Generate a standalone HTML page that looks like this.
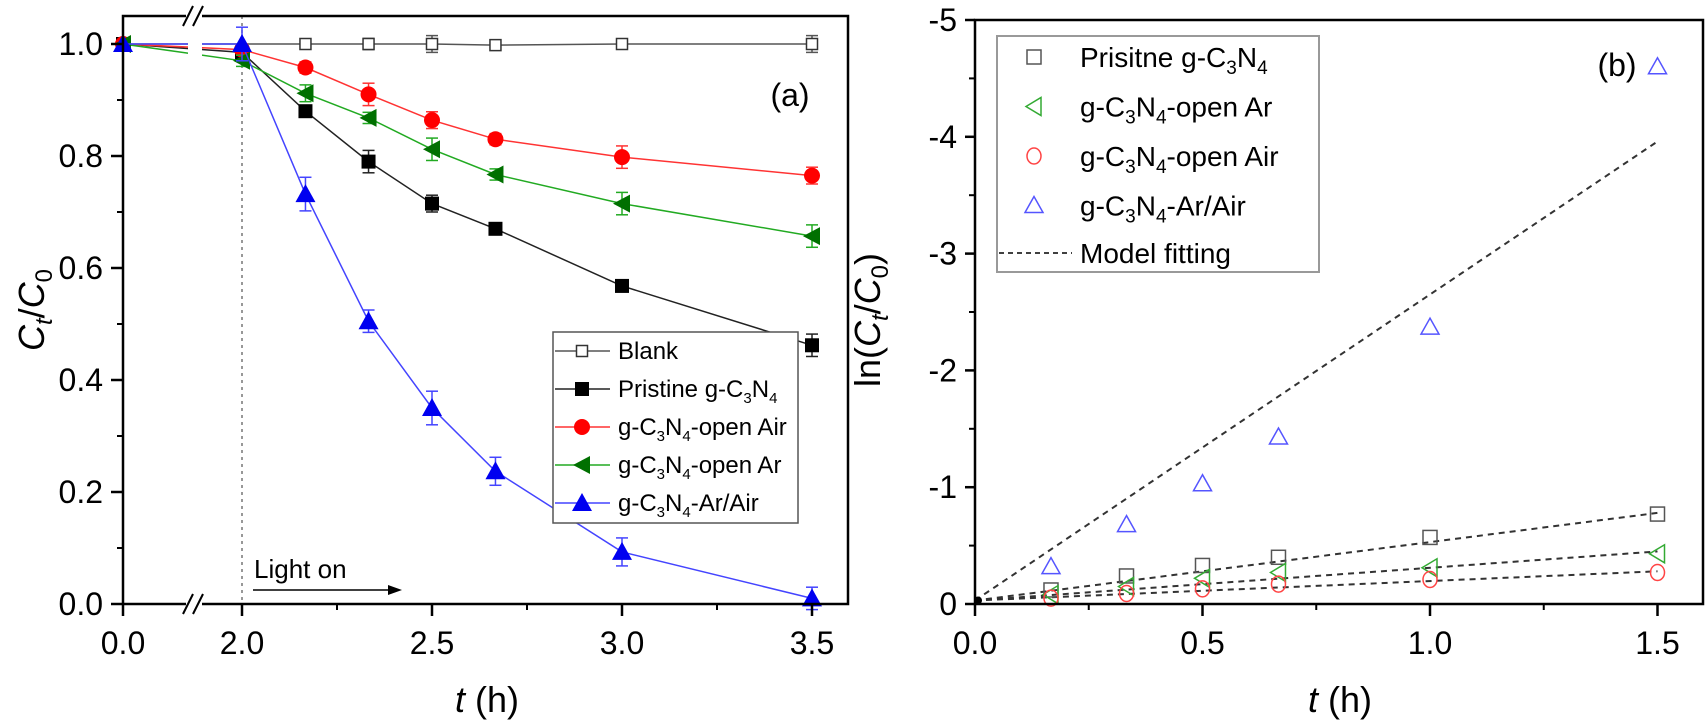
<!DOCTYPE html>
<html><head><meta charset="utf-8"><style>
body{margin:0;background:#fff}
svg{display:block;font-family:"Liberation Sans",Arial,sans-serif}
</style></head><body>
<svg id="fig" width="1708" height="724" viewBox="0 0 1708 724">
<g id="pa"></g>
<g id="pb"></g>
</svg>
<script>
// ---- Panel (a) data ----
const tA = [0, 2.0, 2.167, 2.333, 2.5, 2.667, 3.0, 3.5];
const blank = [1.0, 1.0, 1.0, 1.0, 1.0, 0.998, 1.0, 1.0];
const pristine = [1.0, 0.985, 0.88, 0.79, 0.715, 0.67, 0.568, 0.462];
const openAir = [1.0, 0.99, 0.958, 0.91, 0.864, 0.83, 0.798, 0.765];
const openAr = [1.0, 0.97, 0.912, 0.868, 0.812, 0.767, 0.715, 0.657];
const arAir = [1.0, 1.0, 0.732, 0.505, 0.35, 0.237, 0.093, 0.01];
const errBlank = [0, 0, 0.005, 0.01, 0.015, 0.005, 0.005, 0.015];
const errPristine = [0, 0.01, 0.01, 0.02, 0.015, 0.01, 0.01, 0.02];
const errAir = [0, 0.01, 0.01, 0.02, 0.015, 0.01, 0.02, 0.015];
const errAr = [0, 0.01, 0.015, 0.01, 0.02, 0.01, 0.02, 0.02];
const errArAir = [0, 0.03, 0.03, 0.02, 0.03, 0.025, 0.025, 0.02];
const yTicksA = [0.0, 0.2, 0.4, 0.6, 0.8, 1.0];
const xTicksA = [0.0, 2.0, 2.5, 3.0, 3.5];
// ---- Panel (b) data ----
const tB = [0.167, 0.333, 0.5, 0.667, 1.0, 1.5];
const lnPristine = [0.12, 0.24, 0.33, 0.40, 0.57, 0.77];
const lnAr = [0.08, 0.15, 0.22, 0.27, 0.31, 0.43];
const lnAir = [0.05, 0.09, 0.13, 0.17, 0.21, 0.27];
const lnArAir = [0.32, 0.68, 1.03, 1.43, 2.37, 4.6];
const fitStart = [0.03, 0.03, 0.03, 0.03];
const fitEnd = [0.78, 0.45, 0.28, 3.96];
const yTicksB = [0, 1, 2, 3, 4, 5];
const xTicksB = [0.0, 0.5, 1.0, 1.5];

const NS = "http://www.w3.org/2000/svg";
function mk(parent, tag, attrs, text) {
  const e = document.createElementNS(NS, tag);
  for (const k in attrs) e.setAttribute(k, attrs[k]);
  if (text !== undefined) e.textContent = text;
  parent.appendChild(e);
  return e;
}
const pa = document.getElementById('pa');
const pb = document.getElementById('pb');

// axes functions
const AX = {l:123, r:848, t:16, b:604};
function xa(t){ return t >= 2 ? 242 + (t - 2) * 380 : 123 + t * 35; }
function ya(v){ return 604 - v * 560; }
const BX = {l:975, r:1703, t:20, b:604};
function xb(t){ return 975 + t * 455; }
function yb(v){ return 604 - v * 116.8; }

// ---------- Panel a ----------
// vertical light-on dotted line
let e = mk(pa, 'line', {x1:242, y1:AX.t, x2:242, y2:AX.b, stroke:'#777', 'stroke-width':1.5, 'stroke-dasharray':'3,4'});



function markerA(g, type, x, y, color) {
  let m;
  if (type === 'sq') m = mk(g, 'rect', {x:x-7, y:y-7, width:14, height:14, fill:color});
  else if (type === 'osq') m = mk(g, 'rect', {x:x-5.5, y:y-5.5, width:11, height:11, fill:'#fff', stroke:'#333', 'stroke-width':1.5});
  else if (type === 'ci') m = mk(g, 'circle', {cx:x, cy:y, r:8, fill:color});
  else if (type === 'lt') m = mk(g, 'polygon', {points:`${x-9},${y} ${x+8},${y-9} ${x+8},${y+9}`, fill:color});
  else if (type === 'up') m = mk(g, 'polygon', {points:`${x},${y-10} ${x-10},${y+8} ${x+10},${y+8}`, fill:color});
  return m;
}
const seriesA = [
  {name:'blank', vals:blank, err:errBlank, color:'#444', mk:'osq'},
  {name:'pristine', vals:pristine, err:errPristine, color:'#000', mk:'sq'},
  {name:'open-air', vals:openAir, err:errAir, color:'#f00', mk:'ci'},
  {name:'open-ar', vals:openAr, err:errAr, color:'#007000', mk:'lt'},
  {name:'ar-air', vals:arAir, err:errArAir, color:'#0000f0', mk:'up'}
];
const lineColA = {blank:'#555', pristine:'#222', 'open-air':'#f33', 'open-ar':'#2a2', 'ar-air':'#44f'};
seriesA.forEach(s => {
  const g = mk(pa, 'g', {});
  
  
  const pts = tA.map((t,i)=> xa(t)+','+ya(s.vals[i])).join(' ');
  const pl = mk(g, 'polyline', {points:pts, fill:'none', stroke:lineColA[s.name], 'stroke-width':1.5});
  
  
  tA.forEach((t,i)=>{
    const x = xa(t), y = ya(s.vals[i]), er = s.err[i]*560;
    if (er > 0) {
      mk(g, 'line', {x1:x, y1:y-er, x2:x, y2:y+er, stroke:lineColA[s.name], 'stroke-width':1.5});
      mk(g, 'line', {x1:x-6, y1:y-er, x2:x+6, y2:y-er, stroke:lineColA[s.name], 'stroke-width':1.5});
      mk(g, 'line', {x1:x-6, y1:y+er, x2:x+6, y2:y+er, stroke:lineColA[s.name], 'stroke-width':1.5});
    }
    if (s.name === 'blank' && t === 2.0) return;
    const m = markerA(g, s.mk, x, y, s.color);
    
    
  });
});
// break gap
mk(pa, 'rect', {x:188, y:AX.t+3, width:14, height:AX.b-AX.t-6, fill:'#fff'});
// frame
e = mk(pa, 'rect', {x:AX.l, y:AX.t, width:AX.r-AX.l, height:AX.b-AX.t, fill:'none', stroke:'#000', 'stroke-width':2.5});


// break marks
[AX.t, AX.b].forEach(yy=>{
  mk(pa, 'rect', {x:186, y:yy-3, width:16, height:6, fill:'#fff'});
  mk(pa, 'line', {x1:183, y1:yy+10, x2:193, y2:yy-10, stroke:'#000', 'stroke-width':2});
  mk(pa, 'line', {x1:193, y1:yy+10, x2:203, y2:yy-10, stroke:'#000', 'stroke-width':2});
});
// y ticks a
yTicksA.forEach(v=>{
  mk(pa, 'line', {x1:AX.l-12, y1:ya(v), x2:AX.l, y2:ya(v), stroke:'#000', 'stroke-width':2.5});
  const tx = mk(pa, 'text', {x:AX.l-20, y:ya(v)+11, 'text-anchor':'end', 'font-size':32}, v.toFixed(1));
  
  
});
yTicksA.slice(0,-1).forEach(v=>{
  mk(pa, 'line', {x1:AX.l-6, y1:ya(v+0.1), x2:AX.l, y2:ya(v+0.1), stroke:'#000', 'stroke-width':2});
});
xTicksA.forEach(v=>{
  mk(pa, 'line', {x1:xa(v), y1:AX.b, x2:xa(v), y2:AX.b+12, stroke:'#000', 'stroke-width':2.5});
  const tx = mk(pa, 'text', {x:xa(v), y:AX.b+50, 'text-anchor':'middle', 'font-size':32}, v.toFixed(1));
  
  
});
[2.25, 2.75, 3.25].forEach(v=>{
  mk(pa, 'line', {x1:xa(v), y1:AX.b, x2:xa(v), y2:AX.b+6, stroke:'#000', 'stroke-width':2});
});
// light on
e = mk(pa, 'text', {x:254, y:578, 'font-size':26}, 'Light on');


mk(pa, 'line', {x1:253, y1:590, x2:392, y2:590, stroke:'#000', 'stroke-width':1.5});
mk(pa, 'polygon', {points:'402,590 388,585 388,595', fill:'#000'});
// (a)
e = mk(pa, 'text', {x:790, y:106, 'text-anchor':'middle', 'font-size':32}, '(a)');


// titles
e = mk(pa, 'text', {x:487, y:712, 'text-anchor':'middle', 'font-size':36});
e.innerHTML = '<tspan font-style="italic">t</tspan> (h)';


e = mk(pa, 'text', {x:0, y:0, 'text-anchor':'middle', 'font-size':36, transform:'translate(44,310) rotate(-90)'});
e.innerHTML = '<tspan font-style="italic">C</tspan><tspan font-style="italic" font-size="24" dy="8">t</tspan><tspan dy="-8">/</tspan><tspan font-style="italic">C</tspan><tspan font-size="24" dy="8">0</tspan>';


// legend a
const legA = mk(pa, 'g', {});


mk(legA, 'rect', {x:553, y:332, width:245, height:191, fill:'#fff', stroke:'#555', 'stroke-width':1.5});
const legLabelsA = [
  'Blank',
  'Pristine g-C<tspan font-size="15" dy="6">3</tspan><tspan dy="-6">N</tspan><tspan font-size="15" dy="6">4</tspan>',
  'g-C<tspan font-size="15" dy="6">3</tspan><tspan dy="-6">N</tspan><tspan font-size="15" dy="6">4</tspan><tspan dy="-6">-open Air</tspan>',
  'g-C<tspan font-size="15" dy="6">3</tspan><tspan dy="-6">N</tspan><tspan font-size="15" dy="6">4</tspan><tspan dy="-6">-open Ar</tspan>',
  'g-C<tspan font-size="15" dy="6">3</tspan><tspan dy="-6">N</tspan><tspan font-size="15" dy="6">4</tspan><tspan dy="-6">-Ar/Air</tspan>'
];
seriesA.forEach((s,i)=>{
  const y = 351 + i*38;
  const g = mk(legA, 'g', {});
  
  
  mk(g, 'line', {x1:555, y1:y, x2:610, y2:y, stroke:lineColA[s.name], 'stroke-width':1.5});
  markerA(g, s.mk, 582, y, s.color);
  const t = mk(g, 'text', {x:618, y:y+8, 'font-size':24});
  t.innerHTML = legLabelsA[i];
});

// ---------- Panel b ----------
const fitX = [0, 1.5];
const fitNames = ['pristine','open-ar','open-air','ar-air'];
fitNames.forEach((n,i)=>{
  const l = mk(pb, 'line', {x1:xb(fitX[0]), y1:yb(fitStart[i]), x2:xb(fitX[1]), y2:yb(fitEnd[i]), stroke:'#333', 'stroke-width':2, 'stroke-dasharray':'6,5'});
  
  
});
function markerB(g, type, x, y) {
  if (type === 'sq') return mk(g, 'rect', {x:x-7, y:y-7, width:14, height:14, fill:'none', stroke:'#555', 'stroke-width':1.5});
  if (type === 'lt') return mk(g, 'polygon', {points:`${x-8},${y} ${x+7},${y-9} ${x+7},${y+9}`, fill:'none', stroke:'#3a3', 'stroke-width':1.5});
  if (type === 'ci') return mk(g, 'ellipse', {cx:x, cy:y, rx:7, ry:8, fill:'none', stroke:'#f44', 'stroke-width':1.5});
  return mk(g, 'polygon', {points:`${x},${y-9} ${x-9},${y+7} ${x+9},${y+7}`, fill:'none', stroke:'#55f', 'stroke-width':1.5});
}
const seriesB = [
  {name:'pristine', vals:lnPristine, mk:'sq'},
  {name:'open-ar', vals:lnAr, mk:'lt'},
  {name:'open-air', vals:lnAir, mk:'ci'},
  {name:'ar-air', vals:lnArAir, mk:'up'}
];
seriesB.forEach(s=>{
  const g = mk(pb, 'g', {});
  
  
  tB.forEach((t,i)=>{
    const m = markerB(g, s.mk, xb(t), yb(s.vals[i]));
    
    
  });
});
mk(pb, 'circle', {cx:xb(0)+3, cy:yb(0.03), r:4, fill:'#000'});
e = mk(pb, 'rect', {x:BX.l, y:BX.t, width:BX.r-BX.l, height:BX.b-BX.t, fill:'none', stroke:'#000', 'stroke-width':2.5});


yTicksB.forEach(v=>{
  mk(pb, 'line', {x1:BX.l-10, y1:yb(v), x2:BX.l, y2:yb(v), stroke:'#000', 'stroke-width':2.5});
  const tx = mk(pb, 'text', {x:BX.l-18, y:yb(v)+11, 'text-anchor':'end', 'font-size':32}, v === 0 ? '0' : '-' + v);
  
  
});
yTicksB.slice(0,-1).forEach(v=>{
  mk(pb, 'line', {x1:BX.l-6, y1:yb(v+0.5), x2:BX.l, y2:yb(v+0.5), stroke:'#000', 'stroke-width':2});
});
xTicksB.forEach(v=>{
  mk(pb, 'line', {x1:xb(v), y1:BX.b, x2:xb(v), y2:BX.b+12, stroke:'#000', 'stroke-width':2.5});
  const tx = mk(pb, 'text', {x:xb(v), y:BX.b+50, 'text-anchor':'middle', 'font-size':32}, v.toFixed(1));
  
  
});
[0.25, 0.75, 1.25].forEach(v=>{
  mk(pb, 'line', {x1:xb(v), y1:BX.b, x2:xb(v), y2:BX.b+6, stroke:'#000', 'stroke-width':2});
});
e = mk(pb, 'text', {x:1617, y:76, 'text-anchor':'middle', 'font-size':32}, '(b)');


e = mk(pb, 'text', {x:1340, y:712, 'text-anchor':'middle', 'font-size':36});
e.innerHTML = '<tspan font-style="italic">t</tspan> (h)';


e = mk(pb, 'text', {x:0, y:0, 'text-anchor':'middle', 'font-size':36, transform:'translate(880,320) rotate(-90)'});
e.innerHTML = 'ln(<tspan font-style="italic">C</tspan><tspan font-style="italic" font-size="24" dy="8">t</tspan><tspan dy="-8">/</tspan><tspan font-style="italic">C</tspan><tspan font-size="24" dy="8">0</tspan><tspan dy="-8">)</tspan>';


// legend b
const legB = mk(pb, 'g', {});


mk(legB, 'rect', {x:997, y:36, width:322, height:236, fill:'#fff', stroke:'#999', 'stroke-width':2});
const sub = (a,b)=>'<tspan font-size="19" dy="7">'+a+'</tspan><tspan dy="-7">N</tspan><tspan font-size="19" dy="7">'+b+'</tspan><tspan dy="-7">';
const legLabelsB = [
  'Prisitne g-C' + sub('3','4') + '</tspan>',
  'g-C' + sub('3','4') + '-open Ar</tspan>',
  'g-C' + sub('3','4') + '-open Air</tspan>',
  'g-C' + sub('3','4') + '-Ar/Air</tspan>'
];
seriesB.forEach((s,i)=>{
  const y = 57 + i*49.5;
  const g = mk(legB, 'g', {});
  
  
  markerB(g, s.mk, 1034, y);
  const t = mk(g, 'text', {x:1080, y:y+10, 'font-size':28});
  t.innerHTML = legLabelsB[i];
});
const gf = mk(legB, 'g', {});


mk(gf, 'line', {x1:999, y1:253, x2:1072, y2:253, stroke:'#000', 'stroke-width':1.5, 'stroke-dasharray':'5,4'});
mk(gf, 'text', {x:1080, y:263, 'font-size':28}, 'Model fitting');
</script>
</body></html>
